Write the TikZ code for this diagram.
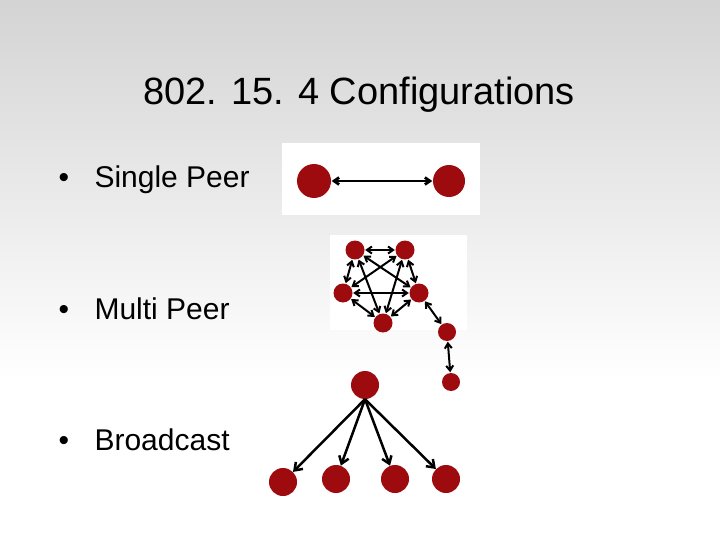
\documentclass[tikz,border=0pt]{standalone}
\usepackage{fontspec}
\setmainfont{Liberation Sans}
\usetikzlibrary{arrows.meta}
\definecolor{nred}{HTML}{9E0B0F}
\begin{document}
\begin{tikzpicture}[x=1pt,y=-1pt,
  nd/.style={circle,fill=nred,inner sep=0pt,minimum size=#1},
  lk/.style={{Straight Barb[length=5pt,width=7pt]}-{Straight Barb[length=5pt,width=7pt]},line width=2pt,shorten <=0.5pt,shorten >=0.5pt},
  ar/.style={-{Straight Barb[length=7pt,width=10pt]},line width=2.5pt},
  txt/.style={anchor=west,font=\fontsize{30}{34}\selectfont}]
\useasboundingbox (0,0) rectangle (720,540);
\shade[top color=black!17,bottom color=white] (0,0) rectangle (720,380);
\fill[white] (0,380) rectangle (720,540);
\fill[white] (282,143) rectangle (480,215);
\fill[white] (330,235) rectangle (467,330);
\node (title) at (359,95) {\fontsize{38}{42}\selectfont 802. 15. 4 Configurations};
\node[txt] (b1) at (55,180) {•\hspace{0.85em}Single Peer};
\node[txt] (b2) at (55,309) {•\hspace{0.85em}Multi Peer};
\node[txt] (b3) at (55,440) {•\hspace{0.85em}Broadcast};
% single peer
\node[nd=34pt] (s1) at (314,181) {};
\node[nd=32pt] (s2) at (449,181) {};
\draw[lk,line width=2.8pt] (s1) -- (s2);
% multi peer
\node[nd=19pt] (A) at (355,250) {};
\node[nd=19pt] (B) at (405,250) {};
\node[nd=19pt] (C) at (343,293) {};
\node[nd=19pt] (D) at (419,293) {};
\node[nd=19pt] (E) at (383,323) {};
\node[nd=18pt] (F) at (447,332) {};
\node[nd=18pt] (G) at (451,382) {};
\foreach \u/\v in {A/B,A/C,A/D,A/E,B/C,B/D,B/E,C/D,C/E,D/E,D/F,F/G}
  \draw[lk] (\u) -- (\v);
% broadcast
\node[nd=28pt] (T) at (365,385) {};
\node[nd=28pt] (P1) at (283,482) {};
\node[nd=28pt] (P2) at (336,479) {};
\node[nd=28pt] (P3) at (395,479) {};
\node[nd=28pt] (P4) at (446,479) {};
\foreach \p in {P1,P2,P3,P4}
  \draw[ar] (T.south) -- (\p);
\end{tikzpicture}
\end{document}
